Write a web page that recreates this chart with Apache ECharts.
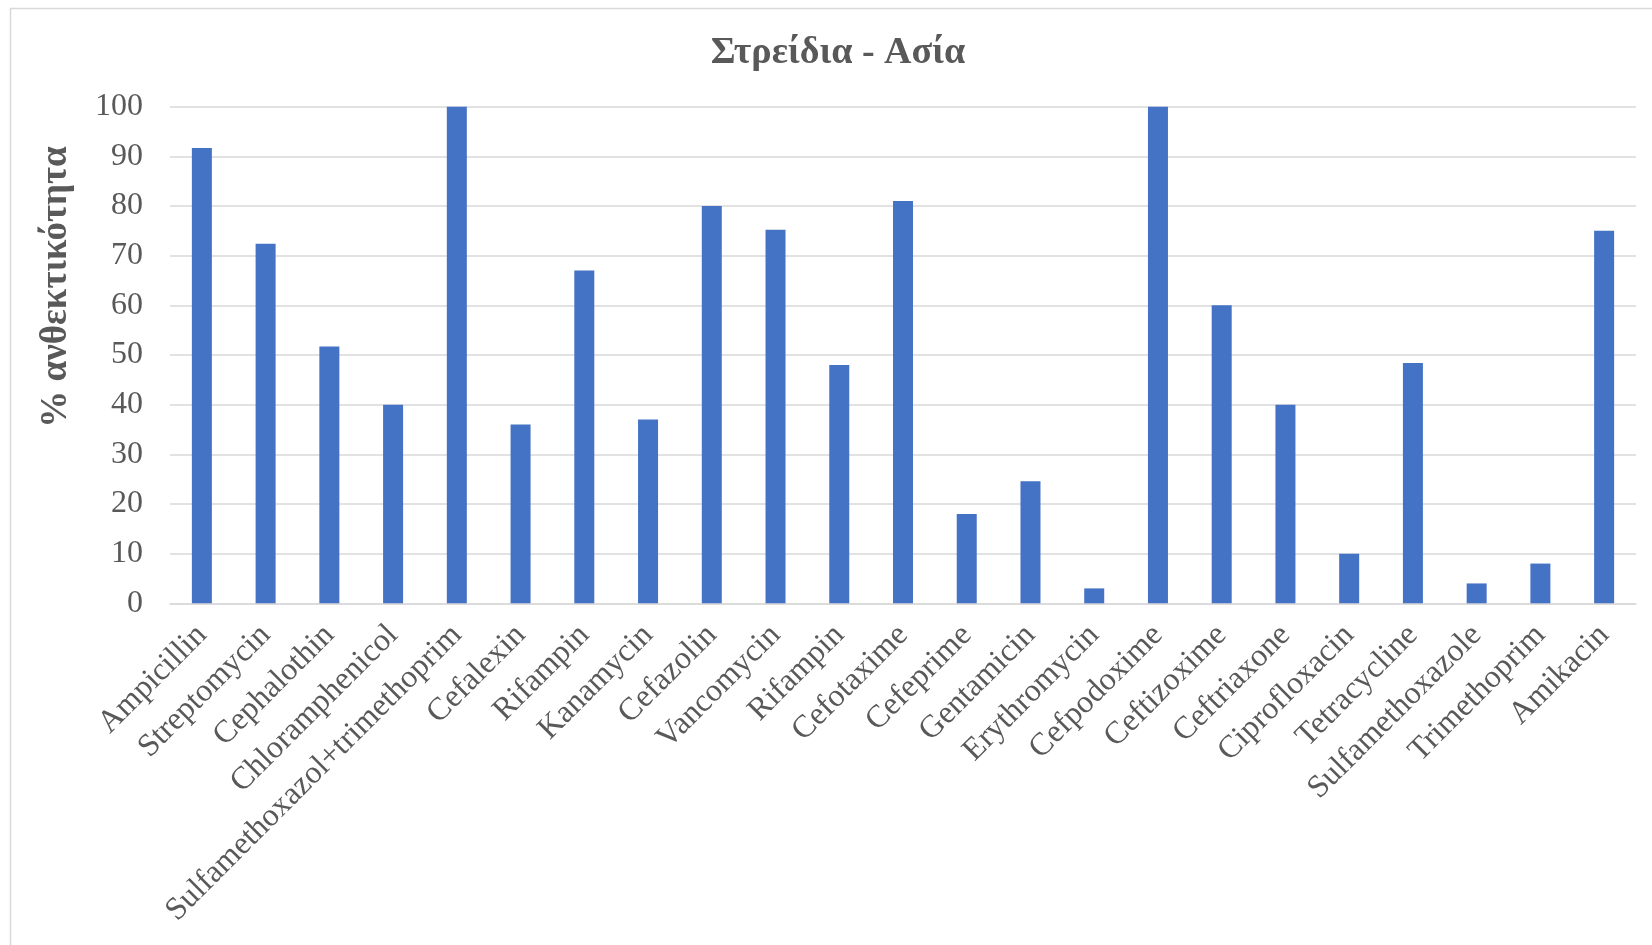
<!DOCTYPE html>
<html>
<head>
<meta charset="utf-8">
<script src="https://cdn.jsdelivr.net/npm/echarts@6/dist/echarts.min.js"></script>
<style>
html,body{margin:0;padding:0;background:#fff;}
#chart{width:1652px;height:945px;}
</style>
</head>
<body>
<div id="chart"></div>
<script>
const titleText = 'Στρείδια - Ασία';
const yAxisName = '% ανθεκτικότητα';
const categories = ['Ampicillin','Streptomycin','Cephalothin','Chloramphenicol','Sulfamethoxazol+trimethoprim','Cefalexin','Rifampin','Kanamycin','Cefazolin','Vancomycin','Rifampin','Cefotaxime','Cefeprime','Gentamicin','Erythromycin','Cefpodoxime','Ceftizoxime','Ceftriaxone','Ciprofloxacin','Tetracycline','Sulfamethoxazole','Trimethoprim','Amikacin'];
const values = [91.7,72.4,51.7,40,100,36,67,37,80,75.2,48,81,18,24.6,3,100,60,40,10,48.4,4,8,75];
const yMin = 0, yMax = 100, yStep = 10;

const FONT = '"Liberation Serif","Times New Roman",serif';
const chart = echarts.init(document.getElementById('chart'), null, {renderer:'canvas'});
chart.setOption({
  backgroundColor:'#fff',
  animation:false,
  title:{
    text:titleText,
    left:833, top:29, textAlign:'center',
    textStyle:{fontFamily:FONT,fontSize:38,fontWeight:'bold',color:'#595959'}
  },
  graphic:[
    {type:'rect',shape:{x:10.5,y:8.5,width:1700,height:1000},style:{fill:null,stroke:'#d9d9d9',lineWidth:1.5},silent:true,z:-1},
    {type:'text',x:56,y:287,rotation:Math.PI/2,
     style:{text:yAxisName,fontFamily:FONT,fontSize:37,fontWeight:'bold',fill:'#595959',align:'center',verticalAlign:'middle'}}
  ],
  grid:{left:170,right:16,top:106.7,bottom:341.7,containLabel:false},
  xAxis:{
    type:'category',
    data:categories,
    axisTick:{show:false},
    axisLine:{show:true,lineStyle:{color:'#d9d9d9',width:1.5}},
    axisLabel:{rotate:45,interval:0,margin:27,fontFamily:FONT,fontSize:32,color:'#595959'}
  },
  yAxis:{
    type:'value',min:yMin,max:yMax,interval:yStep,
    axisLine:{show:false},axisTick:{show:false},
    splitLine:{lineStyle:{color:'#d9d9d9',width:1.5}},
    axisLabel:{margin:27,fontFamily:FONT,fontSize:32,color:'#595959'}
  },
  series:[{
    type:'bar',
    data:values,
    barWidth:20,
    itemStyle:{color:'#4472C4'}
  }]
});
</script>
</body>
</html>
